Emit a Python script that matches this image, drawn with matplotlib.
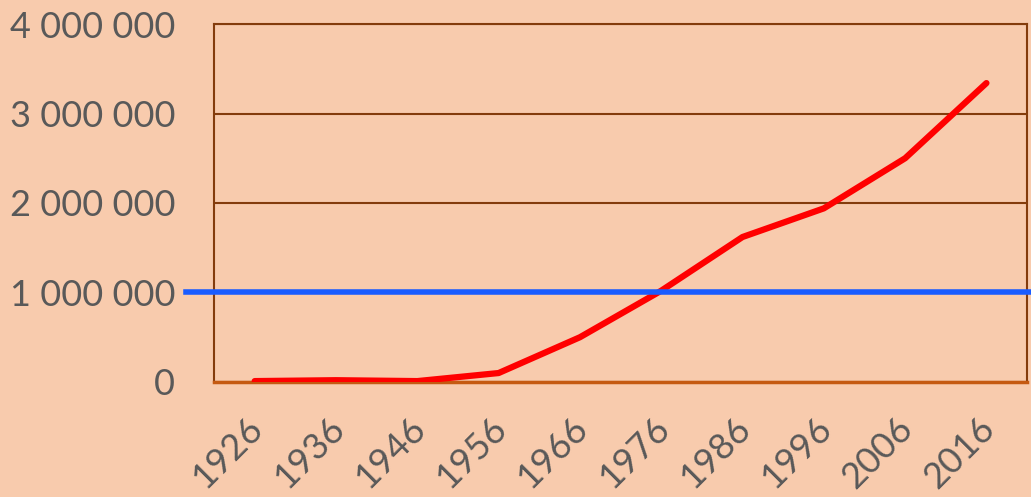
import matplotlib.pyplot as plt
import matplotlib.transforms as mtransforms
import numpy as np

# values
years = ["1926", "1936", "1946", "1956", "1966", "1976", "1986", "1996", "2006", "2016"]
values = [10000, 20000, 10000, 100000, 500000, 1020000, 1620000, 1940000, 2500000, 3340000]
threshold = 1000000
y_ticks = [0, 1000000, 2000000, 3000000, 4000000]

bg = "#F8CBAD"
txt = "#595959"
brown = "#843C0C"

plt.rcParams["font.family"] = ["Lato", "DejaVu Sans"]

fig = plt.figure(figsize=(10.31, 4.97), dpi=100, facecolor=bg)
ax = fig.add_axes([0.2076, 0.2314, 0.7886, 0.7203], facecolor=bg)

x = np.arange(len(years))
ax.plot(x, values, color="#FF0000", linewidth=4.5, solid_capstyle="round", zorder=4)

# blue reference line runs a bit past the plot area
ax.plot([-0.034, 1.004], [threshold, threshold], color="#1A5CFF", linewidth=4,
        transform=ax.get_yaxis_transform(), clip_on=False, zorder=5)

ax.set_xlim(-0.5, len(years) - 0.5)
ax.set_ylim(0, 4000000)
ax.set_yticks(y_ticks)
ax.set_yticklabels([f"{v:,}".replace(",", " ") for v in y_ticks])
ax.set_xticks(x)
ax.set_xticklabels(years, rotation=45, ha="right", rotation_mode="anchor")

ax.tick_params(axis="y", length=0, pad=28, labelsize=26, labelcolor=txt)
ax.tick_params(axis="x", length=0, pad=21, labelsize=26, labelcolor=txt)

# nudge rotated year labels a little to the left
shift = mtransforms.ScaledTranslation(-9 / 100, 0, fig.dpi_scale_trans)
for lab in ax.get_xticklabels():
    lab.set_transform(lab.get_transform() + shift)

ax.grid(True, axis="y", color=brown, linewidth=1.5)
ax.set_axisbelow(True)
for s in ["left", "right", "top"]:
    ax.spines[s].set_color(brown)
    ax.spines[s].set_linewidth(1.5)
ax.spines["bottom"].set_color("#C55A11")
ax.spines["bottom"].set_linewidth(2.5)

fig.savefig("out.png", dpi=100, facecolor=bg)
